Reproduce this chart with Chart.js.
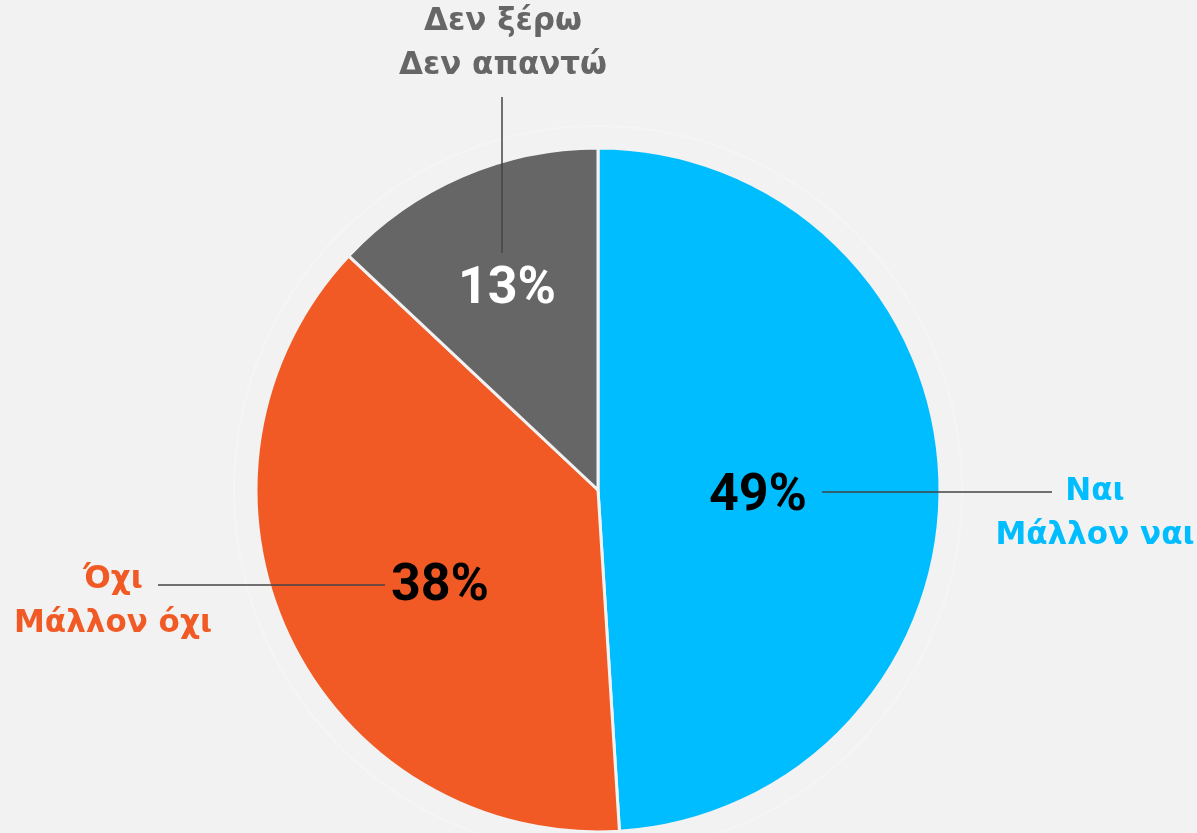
<!DOCTYPE html>
<html>
<head>
<meta charset="utf-8">
<script src="https://cdn.jsdelivr.net/npm/chart.js@4"></script>
<style>
  html, body { margin: 0; padding: 0; background: #f2f2f2; }
  #wrap { width: 1197px; height: 833px; }
</style>
</head>
<body>
<div id="wrap"><canvas id="poll-pie"></canvas></div>
<script>
// data
const categories = [['Ναι', 'Μάλλον ναι'], ['Όχι', 'Μάλλον όχι'], ['Δεν ξέρω', 'Δεν απαντώ']];
const values = [49, 38, 13];
const sliceColors = ['#00bdff', '#f15a24', '#666666'];
const pctColors = ['#000000', '#000000', '#ffffff'];

// label layout, offsets from the pie centre (px)
const pctOffsets = [[160, 7], [-158, 97], [-91, -200]];
const leaderLines = [[[224, 2], [454, 2]], [[-440, 95], [-213, 95]], [[-96, -393], [-96, -237]]];
const nameOffsets = [[497, 2], [-485, 90], [-95, -468]];

const pieCanvas = document.getElementById('poll-pie');

// draws the faint ring, the percentages, leader lines and names
const pieLabels = {
  id: 'pieLabels',
  beforeDatasetsDraw(chart) {
    const arc = chart.getDatasetMeta(0).data[0];
    const ctx = chart.ctx;
    ctx.save();
    ctx.strokeStyle = '#f5f5f5';
    ctx.lineWidth = 2;
    ctx.beginPath();
    ctx.arc(arc.x, arc.y, arc.outerRadius + 22, 0, Math.PI * 2);
    ctx.stroke();
    ctx.restore();
  },
  afterDatasetsDraw(chart) {
    const ctx = chart.ctx;
    const arcs = chart.getDatasetMeta(0).data;
    ctx.save();
    arcs.forEach((arc, i) => {
      const cx = arc.x, cy = arc.y;

      // leader line
      const [a, b] = leaderLines[i];
      ctx.strokeStyle = '#444444';
      ctx.lineWidth = 1.5;
      ctx.beginPath();
      ctx.moveTo(cx + a[0], cy + a[1]);
      ctx.lineTo(cx + b[0], cy + b[1]);
      ctx.stroke();

      // percentage
      ctx.textAlign = 'center';
      ctx.textBaseline = 'middle';
      ctx.fillStyle = pctColors[i];
      ctx.font = 'bold 52px Roboto';
      ctx.fillText(values[i] + '%', cx + pctOffsets[i][0], cy + pctOffsets[i][1]);

      // category name, two lines
      ctx.fillStyle = sliceColors[i];
      ctx.font = 'bold 31px "DejaVu Sans"';
      categories[i].forEach((line, k) => {
        ctx.fillText(line, cx + nameOffsets[i][0], cy + nameOffsets[i][1] + k * 44);
      });
    });
    ctx.restore();
  }
};

const pollChart = new Chart(pieCanvas, {
  type: 'pie',
  data: {
    labels: categories.map(c => c.join(' / ')),
    datasets: [
      {
        data: values,
        backgroundColor: sliceColors,
        borderColor: '#f2f2f2',
        borderWidth: 3,
      },
    ],
  },
  options: {
    responsive: true,
    maintainAspectRatio: false,
    animation: false,
    radius: 342,
    layout: {
      padding: { left: 257, right: 258, top: 148, bottom: 1 },
    },
    plugins: {
      legend: { display: false },
      tooltip: { enabled: false },
    },
  },
  plugins: [pieLabels],
});
</script>
</body>
</html>
